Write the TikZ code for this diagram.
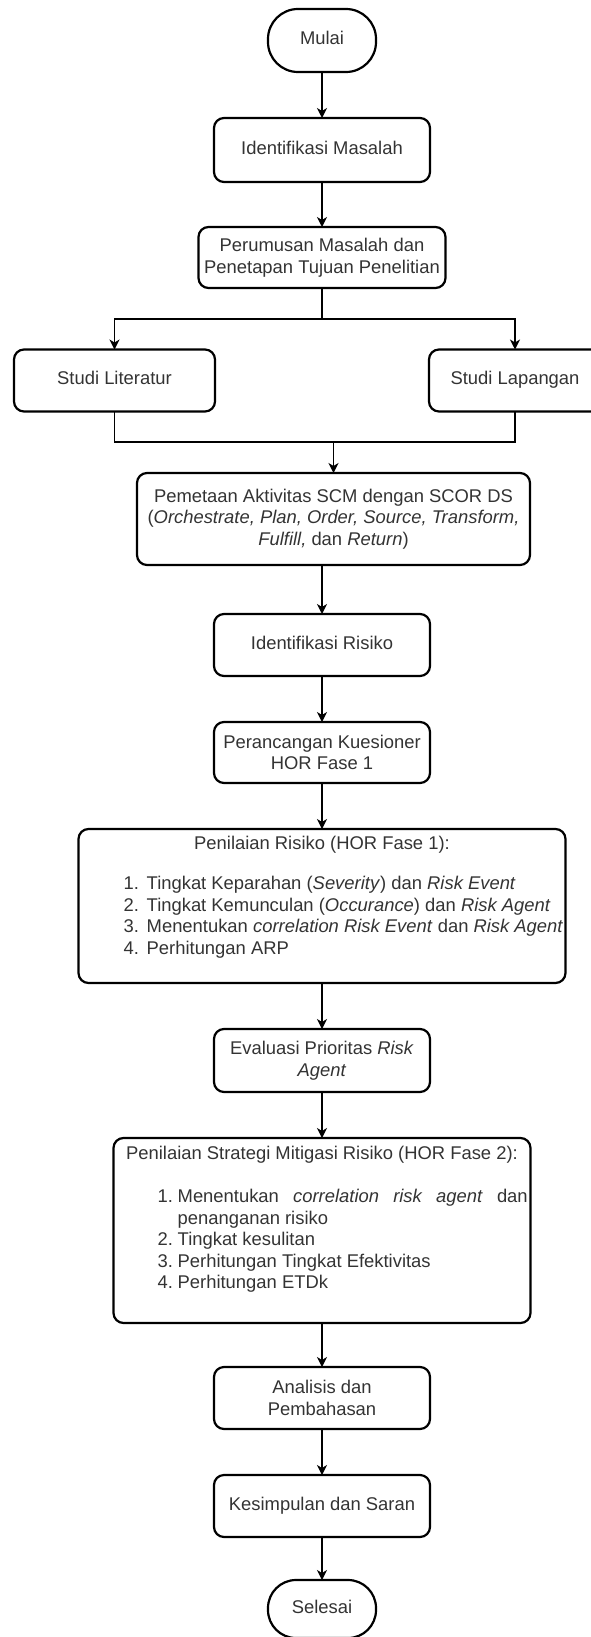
\documentclass[tikz,border=0pt]{standalone}
\usepackage{fontspec}
\setmainfont{Liberation Sans}
\usetikzlibrary{arrows.meta}

\begin{document}
\begin{tikzpicture}[x=1pt,y=1pt,
  font=\fontsize{18.4}{21.5}\selectfont,
  kotak/.style={draw, line width=2.2pt, rounded corners=10pt, inner sep=0pt, outer sep=0pt, align=center, text=black!80},
  ujung/.style={kotak, rounded corners=30pt, minimum width=108pt, minimum height=63pt},
  teks/.style={inner sep=0pt, text=black!80},
  garis/.style={line width=1.3pt},
  panah/.style={garis, -{Stealth[length=10pt,width=10pt,inset=3pt]}}]
  \useasboundingbox (0,0) rectangle (590,-1637);

  % alur atas
  \node[ujung] (mulai) at (322,-40.5) {\strut Mulai};
  \node[kotak, minimum width=216pt, minimum height=64pt] (idmasalah) at (322,-150) {\strut Identifikasi Masalah};
  \node[kotak, minimum width=247pt, minimum height=61pt] (rumusan) at (322,-257.5) {Perumusan Masalah dan\\Penetapan Tujuan Penelitian};
  \node[kotak, minimum width=201pt, minimum height=62pt] (studilit) at (114.5,-380.5) {\strut Studi Literatur};
  \node[kotak, minimum width=172pt, minimum height=62pt] (studilap) at (515,-380.5) {\strut Studi Lapangan};
  \node[kotak, minimum width=393pt, minimum height=92pt] (pemetaan) at (333.5,-519) {Pemetaan Aktivitas SCM dengan SCOR DS\\(\textit{Orchestrate, Plan, Order, Source, Transform,}\\\textit{Fulfill,} dan \textit{Return})};
  \node[kotak, minimum width=216pt, minimum height=62pt] (idrisiko) at (322,-645) {\strut Identifikasi Risiko};
  \node[kotak, minimum width=216pt, minimum height=61pt] (rancang) at (322,-752.5) {Perancangan Kuesioner\\HOR Fase 1};

  % HOR fase 1
  \node[kotak, minimum width=487pt, minimum height=154pt] (nilai) at (322,-906) {};
  \node[teks] (nilai-judul) at (322,-845) {Penilaian Risiko (HOR Fase 1):};
  \node[teks, anchor=north west] (nilai-daftar) at ([xshift=45pt,yshift=-45.5pt]nilai.north west) {%
    \begin{tabular}{@{}p{23pt}@{}l@{}}
      1. & Tingkat Keparahan (\textit{Severity}) dan \textit{Risk Event}\\
      2. & Tingkat Kemunculan (\textit{Occurance}) dan \textit{Risk Agent}\\
      3. & Menentukan \textit{correlation Risk Event} dan \textit{Risk Agent}\\
      4. & Perhitungan ARP
    \end{tabular}};

  \node[kotak, minimum width=216pt, minimum height=63pt] (evaluasi) at (322,-1060.5) {Evaluasi Prioritas \textit{Risk}\\\textit{Agent}};

  % HOR fase 2
  \node[kotak, minimum width=417pt, minimum height=185pt] (strategi) at (322,-1230.5) {};
  \node[teks] (strategi-judul) at (322,-1155) {Penilaian Strategi Mitigasi Risiko (HOR Fase 2):};
  \node[teks, anchor=north west] (strategi-daftar) at ([xshift=44pt,yshift=-49.5pt]strategi.north west) {%
    \begin{tabular}{@{}p{20pt}@{}l@{}}
      1. & \makebox[350pt][s]{Menentukan \textit{correlation risk agent} dan}\\
         & penanganan risiko\\
      2. & Tingkat kesulitan\\
      3. & Perhitungan Tingkat Efektivitas\\
      4. & Perhitungan ETDk
    \end{tabular}};

  \node[kotak, minimum width=216pt, minimum height=62pt] (analisis) at (322,-1398) {Analisis dan\\Pembahasan};
  \node[kotak, minimum width=216pt, minimum height=62pt] (simpulan) at (322,-1506) {\strut Kesimpulan dan Saran};
  \node[ujung, minimum height=58pt, rounded corners=28pt] (selesai) at (322,-1609) {\strut Selesai};

  % panah
  \coordinate (cabang) at ([yshift=-31pt]rumusan.south);
  \coordinate (gabung) at ([yshift=31pt]pemetaan.north);
  \draw[panah] (mulai) -- (idmasalah);
  \draw[panah] (idmasalah) -- (rumusan);
  \draw[garis] (rumusan) -- (cabang);
  \draw[panah] (cabang) -| (studilit);
  \draw[panah] (cabang) -| (studilap);
  \draw[garis] (studilit) |- (gabung) -| (studilap);
  \draw[panah] (gabung) -- (pemetaan);
  \draw[panah] (pemetaan.south -| idrisiko) -- (idrisiko);
  \draw[panah] (idrisiko) -- (rancang);
  \draw[panah] (rancang) -- (nilai);
  \draw[panah] (nilai) -- (evaluasi);
  \draw[panah] (evaluasi) -- (strategi);
  \draw[panah] (strategi) -- (analisis);
  \draw[panah] (analisis) -- (simpulan);
  \draw[panah] (simpulan) -- (selesai);
\end{tikzpicture}
\end{document}
